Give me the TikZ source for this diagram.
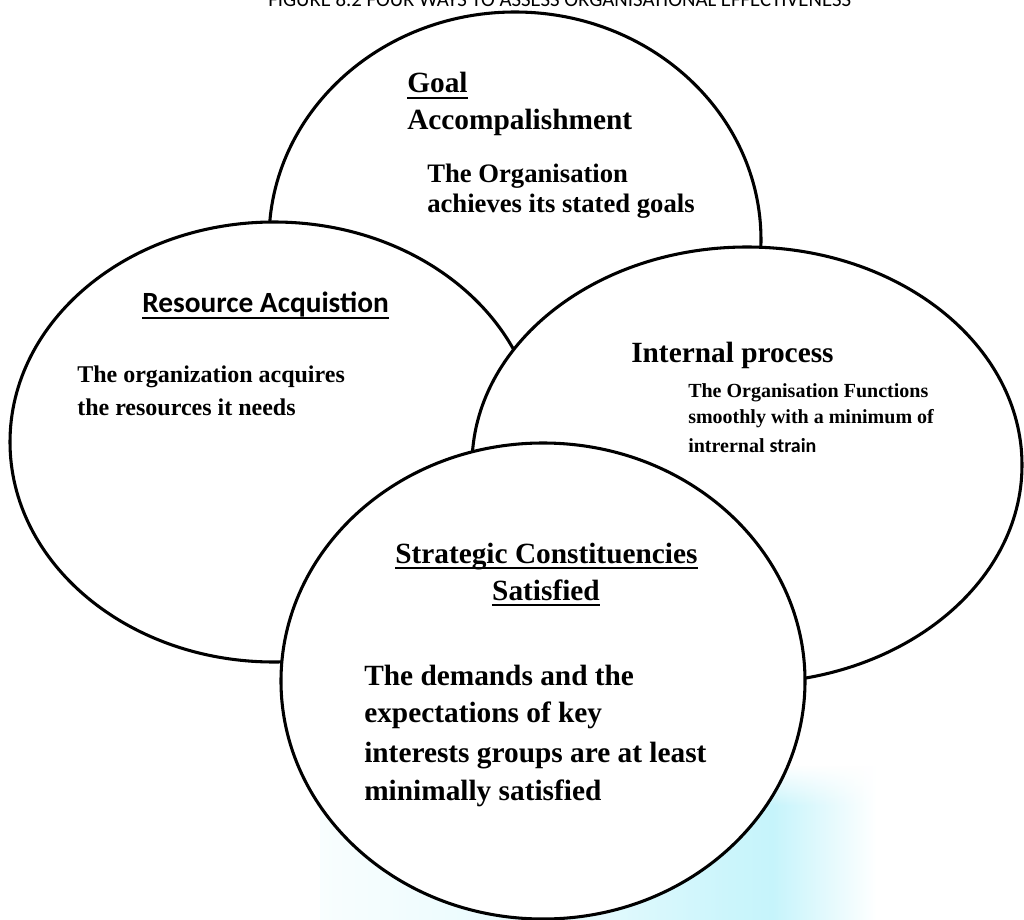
\documentclass[tikz,border=0pt]{standalone}
\usepackage{fontspec}
\setmainfont{Liberation Serif}
\newfontfamily\calib{Carlito}
\usetikzlibrary{shapes.geometric,fadings}
\definecolor{wm}{RGB}{198,244,251}
% only the middle half (25bp..75bp) of a shading lands on the path
\pgfdeclarehorizontalshading{wmshade}{100bp}{color(0bp)=(wm!12); color(25bp)=(wm!12); color(49bp)=(wm!50); color(60bp)=(wm!90); color(64bp)=(wm); color(69bp)=(wm!45); color(73bp)=(white); color(100bp)=(white)}
\begin{document}
\begin{tikzpicture}[x=0.75pt,y=-0.75pt,
  disc/.style={ellipse, draw=black, fill=white, line width=2.3pt, inner sep=0pt},
  head/.style={inner sep=0pt, anchor=base west, font=\bfseries\fontsize{22}{26}\selectfont},
  body/.style={inner sep=0pt, anchor=base west, font=\bfseries\fontsize{20}{24}\selectfont},
  small/.style={inner sep=0pt, anchor=base west, font=\bfseries\fontsize{18}{22}\selectfont},
  tiny/.style={inner sep=0pt, anchor=base west, font=\bfseries\fontsize{15}{18}\selectfont},
  uline/.style={line width=1.5pt}]
\useasboundingbox (0,0) rectangle (1024,920);
\fill[white] (0,0) rectangle (1024,920);

% pale cyan wash behind the lower circle, softened along its top
\shade[shading=wmshade] (320,805) rectangle (900,920);
\shade[shading=wmshade, path fading=north] (320,765) rectangle (900,806);

% caption, running off the top edge
\begin{scope}
  \clip (0,0) rectangle (1024,920);
  \node[inner sep=0pt, anchor=base west, font=\calib\fontsize{15.6}{18}\selectfont] (cap) at (268,7)
    {FIGURE 8.2 FOUR WAYS TO ASSESS ORGANISATIONAL EFFECTIVENESS};
\end{scope}

% the four overlapping circles, back to front
\node[disc, minimum width=369pt, minimum height=342pt] (goal) at (515,240) {};
\node[disc, minimum width=396pt, minimum height=330pt] (res) at (274,442) {};
\node[disc, minimum width=412.5pt, minimum height=327pt] (proc) at (747,465) {};
\node[disc, minimum width=393pt, minimum height=357pt] (strat) at (543,681) {};

% goal accomplishment
\node[head] (g1) at (407,93) {Goal};
\draw[uline] ([yshift=-3.8pt]g1.base west) -- ([yshift=-3.8pt]g1.base east);
\node[head] (g2) at (407,130) {Accompalishment};
\node[body] (g3) at (427,182) {The Organisation};
\node[body] (g4) at (427,213) {achieves its stated goals};

% resource acquisition
\node[head, font=\calib\bfseries\fontsize{22}{26}\selectfont] (r1) at (142,312) {Resource Acquistion};
\draw[uline] ([yshift=-4.5pt]r1.base west) -- ([yshift=-4.5pt]r1.base east);
\node[small] (r2) at (77,382) {The organization acquires};
\node[small] (r3) at (77,415) {the resources it needs};

% internal process
\node[head] (p1) at (631,362) {Internal process};
\node[tiny] (p2) at (688,397) {The Organisation Functions};
\node[tiny] (p3) at (688,423) {smoothly with a minimum of};
\node[tiny] (p4) at (688,452) {intrernal {\calib strain}};

% strategic constituencies
\node[head] (s1) at (395,563) {Strategic Constituencies};
\draw[uline] ([yshift=-3.8pt]s1.base west) -- ([yshift=-3.8pt]s1.base east);
\node[head, anchor=base] (s2) at (546,600) {Satisfied};
\draw[uline] ([yshift=-3.8pt]s2.base west) -- ([yshift=-3.8pt]s2.base east);
\node[head] (s3) at (364,685) {The demands and the};
\node[head] (s4) at (364,722) {expectations of key};
\node[head] (s5) at (364,762) {interests groups are at least};
\node[head] (s6) at (364,800) {minimally satisfied};
\end{tikzpicture}
\end{document}
